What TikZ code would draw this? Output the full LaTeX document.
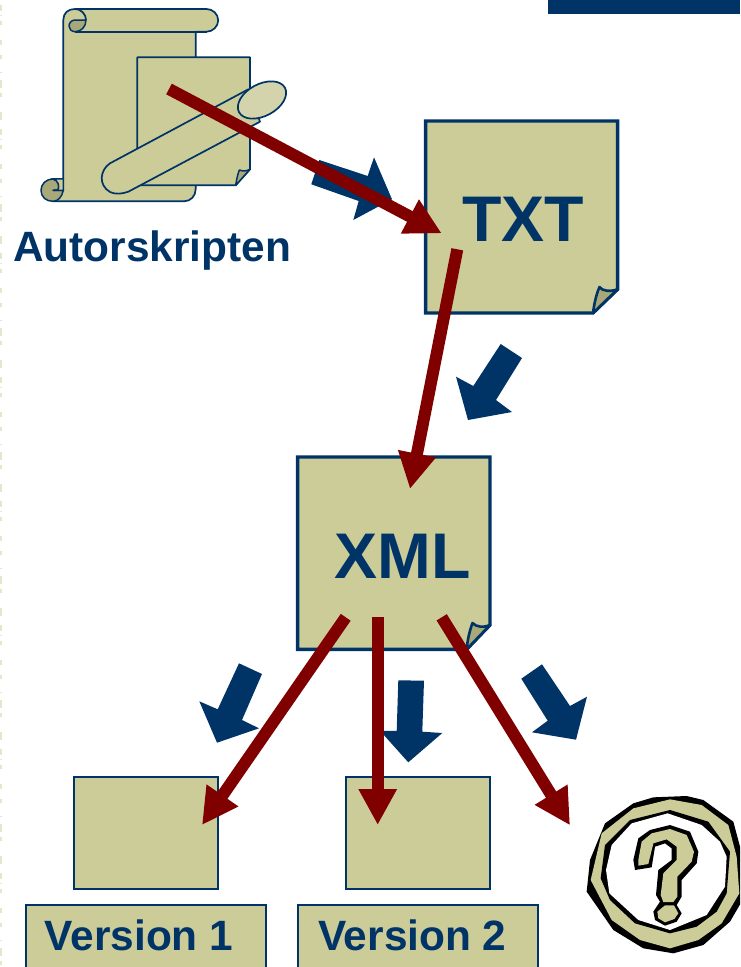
\documentclass[tikz,border=0pt]{standalone}
\usepackage{fontspec}
\setmainfont{Liberation Sans}
\usetikzlibrary{arrows.meta,shapes.geometric}
\definecolor{navy}{HTML}{003366}
\definecolor{khaki}{HTML}{CCCC99}
\definecolor{foldc}{HTML}{A8A878}
\definecolor{capc}{HTML}{D4D4AC}
\definecolor{rust}{HTML}{800000}
\definecolor{stripe}{HTML}{E6E6CC}
\tikzset{
  sheet/.style={draw=navy,fill=khaki,line width=3.4pt,line join=miter},
  foldpart/.style={draw=navy,fill=foldc,line width=2.6pt,line join=round},
  thinpart/.style={draw=navy,fill=khaki,line width=1.7pt,line join=round},
  thinfold/.style={draw=navy,fill=foldc,line width=1.5pt,line join=round},
  plainbox/.style={draw=navy,fill=khaki,line width=2pt,inner sep=0pt,outer sep=0pt},
  bigtext/.style={text=navy,font=\fontsize{64.5}{70}\selectfont\bfseries,anchor=base,inner sep=0pt},
  captext/.style={text=navy,font=\fontsize{42.4}{46}\selectfont\bfseries,anchor=base,inner sep=0pt},
  flow/.style={draw=rust,line width=12pt,-{Triangle[length=36pt,width=36pt]}},
  hint/.style={fill=navy},
}
\begin{document}
\begin{tikzpicture}[x=1pt,y=-1pt]
\path[use as bounding box,clip] (0,0) rectangle (740,967);
\fill[white] (0,0) rectangle (740,967);
% left stripe and top-right bar
\draw[stripe,line width=2.4pt,dash pattern=on 6pt off 4pt on 1pt off 5pt on 4pt off 15pt on 5pt off 10pt on 4pt off 13pt on 1pt off 7pt on 8pt off 5pt on 4pt off 15pt on 8pt off 9pt] (1,5) -- (1,967);
\fill[navy] (548,0) rectangle (740,14);
% scroll
\path[thinpart] (75,9) -- (206.5,9) .. controls (212.7,9) and (218.2,14) .. (218.2,20.3) .. controls (218.2,26.6) and (212.7,31.7) .. (206.5,31.7) -- (195.7,31.7) -- (195.7,189) .. controls (195.7,196) and (190.7,201.3) .. (184,201.3) -- (53,201.3) -- (53,179) -- (63.3,179) -- (63.3,20) .. controls (63.3,13) and (68,9) .. (75,9) -- cycle;
\draw[draw=navy,line width=1.7pt] (75,31.7) -- (206.5,31.7);
\path[thinfold] (86,20) -- (75,20) .. controls (71.5,20) and (69,23) .. (69,26) .. controls (69,29) and (71.5,31.7) .. (75,31.7) .. controls (81,31.7) and (86,27) .. (86,20) -- cycle;
\draw[draw=navy,line width=1.7pt] (75,9) .. controls (81,9) and (86,14) .. (86,20);
\path[thinfold] (53,179) .. controls (46,179) and (41,184) .. (41,190.3) .. controls (41,197) and (46,201.3) .. (53,201.3) .. controls (58,201.3) and (62,197) .. (63.3,190.3) -- (53,190.3) -- (58,190) .. controls (60,186) and (58,180) .. (53,179) -- cycle;
\path[draw=navy,fill=khaki,line width=1.4pt] (53,179) -- (63.3,179) -- (63.3,190.3) -- (53,190.3) -- (58,190) .. controls (60,186) and (58,180) .. (53,179) -- cycle;
% second sheet
\path[thinpart] (137.3,57.3) -- (250,57.3) -- (250,169.3) -- (235.7,185.3) -- (137.3,185.3) -- cycle;
\path[thinfold] (235.7,185.3) .. controls (236.5,180) and (237.5,175) .. (239.3,170) .. controls (243,171.5) and (247,171) .. (250,169.3) -- cycle;
% pen
\path[thinpart] (248.3,89.3) -- (110,163.3) .. controls (100,170) and (98,185) .. (110,192) .. controls (115,194.5) and (122,194) .. (128.3,191.7) -- (260,121.7) -- cycle;
\node[ellipse,draw=navy,fill=capc,line width=1.7pt,rotate=28,minimum width=52pt,minimum height=32pt,inner sep=0pt] (pencap) at (262,100) {};
\node[captext] (scripts) at (152.3,261.7) {Autorskripten};
% blue hint arrows
\fill[hint] (319.3,160) -- (311.3,184.3) -- (358.7,201) -- (353.3,220) -- (392,199.3) -- (374,157.3) -- (367.7,176) -- cycle;
\fill[hint] (500.7,344) -- (522,358) -- (496,400) -- (512,412) -- (468,420) -- (456,376.7) -- (473.3,386) -- cycle;
\fill[hint] (239,663.3) -- (262,674) -- (242,720) -- (259,728.3) -- (217,742.7) -- (199.3,701.3) -- (217.7,709.3) -- cycle;
\fill[hint] (398.3,680.3) -- (424,680.7) -- (422.3,731.7) -- (442.3,733) -- (408.3,762.3) -- (380,730.7) -- (396.7,731) -- cycle;
\fill[hint] (542,664.3) -- (521.3,678.7) -- (547.7,720.7) -- (532,732.3) -- (576,739.7) -- (587,696.7) -- (570,706) -- cycle;
% TXT sheet
\path[sheet] (425.6,121) -- (617.6,121) -- (617.6,289.3) -- (593,313) -- (425.6,313) -- cycle;
\path[foldpart] (593,313) .. controls (594,305) and (596,295) .. (599.5,287) .. controls (602,291) and (610,292) .. (617.6,289.3) -- cycle;
\node[bigtext] (txt) at (523,241) {TXT};
% XML sheet
\path[sheet] (297.6,457) -- (490,457) -- (490,625) -- (466.7,649.3) -- (297.6,649.3) -- cycle;
\path[foldpart] (466.7,649.3) .. controls (467.5,640) and (469.5,631) .. (472.5,623) .. controls (476,627) and (484,628) .. (490,625) -- cycle;
\node[bigtext] (xml) at (402.5,578) {XML};
% version boxes
\node[plainbox,minimum width=144pt,minimum height=112pt] (shotone) at (145.8,833.3) {};
\node[plainbox,minimum width=144pt,minimum height=112pt] (shottwo) at (417.6,833.3) {};
\node[plainbox,minimum width=240pt,minimum height=100pt,anchor=north] (versionone) at (146,905.4) {};
\node[plainbox,minimum width=240pt,minimum height=100pt,anchor=north] (versiontwo) at (417.7,905.4) {};
\node[captext] (labelone) at (138.9,950) {Version 1};
\node[captext] (labeltwo) at (412.3,950) {Version 2};
% question badge
\begin{scope}[shift={(570,780)},x=0.33333pt,y=-0.33333pt]
\fill[black] (250,52) -- (350,48) -- (400,60) -- (490,125) -- (510,200) -- (512,370) -- (480,425) -- (400,495) -- (310,520) -- (220,505) -- (130,450) -- (50,335) -- (60,240) -- (105,130) -- (190,70) -- cycle;
\fill[khaki] (300,58) -- (395,75) -- (475,135) -- (500,230) -- (508,340) -- (455,430) -- (385,480) -- (300,505) -- (210,480) -- (125,420) -- (62,300) -- (95,160) -- (190,85) -- cycle;
\fill[black] (300,90) -- (415,125) -- (480,215) -- (470,340) -- (440,395) -- (380,440) -- (300,460) -- (195,430) -- (120,360) -- (92,295) -- (105,195) -- (180,120) -- cycle;
\fill[white] (293,100) -- (395,135) -- (450,185) -- (470,230) -- (465,320) -- (410,405) -- (300,450) -- (205,420) -- (118,340) -- (108,270) -- (125,195) -- (185,130) -- cycle;
\fill[black] (300,135) -- (360,155) -- (385,215) -- (380,250) -- (335,300) -- (335,350) -- (320,375) -- (335,400) -- (320,425) -- (285,437) -- (255,420) -- (250,395) -- (270,365) -- (258,345) -- (265,270) -- (305,240) -- (305,205) -- (285,190) -- (255,200) -- (245,262) -- (195,270) -- (190,240) -- (205,175) -- (240,150) -- cycle;
\fill[khaki] (300,147) -- (350,165) -- (372,215) -- (365,245) -- (322,290) -- (322,350) -- (310,366) -- (280,366) -- (272,345) -- (280,280) -- (320,240) -- (320,200) -- (290,178) -- (250,190) -- (235,252) -- (205,257) -- (205,240) -- (215,185) -- (245,160) -- cycle;
\fill[khaki] (285,376) -- (312,376) -- (325,400) -- (313,417) -- (285,427) -- (265,415) -- (262,395) -- cycle;
\end{scope}
% red flow arrows
\coordinate (s1) at (169,89);
\coordinate (e1) at (441.7,233.3);
\coordinate (s2) at (457.3,249.3);
\coordinate (e2) at (410,489);
\coordinate (s3) at (345.7,617.3);
\coordinate (e3) at (202,825);
\coordinate (s4) at (377.7,617.3);
\coordinate (e4) at (377.7,825);
\coordinate (s5) at (441.7,617.3);
\coordinate (e5) at (570,825.3);
\draw[flow] (s1) -- (e1);
\draw[flow] (s2) -- (e2);
\draw[flow] (s3) -- (e3);
\draw[flow] (s4) -- (e4);
\draw[flow] (s5) -- (e5);
\end{tikzpicture}
\end{document}
